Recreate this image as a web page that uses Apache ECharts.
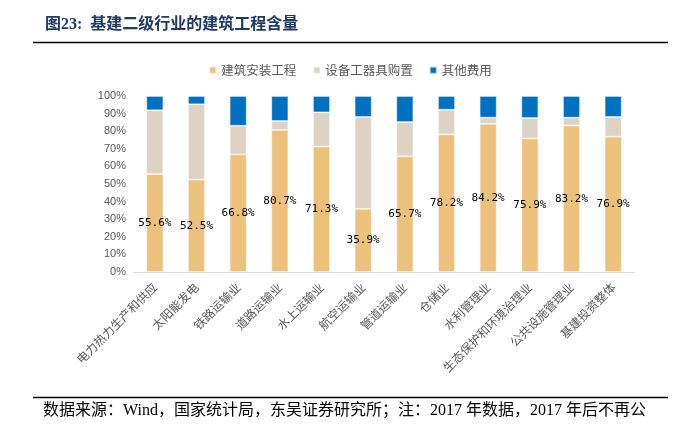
<!DOCTYPE html>
<html><head><meta charset="utf-8">
<script src="https://cdn.jsdelivr.net/npm/echarts@6/dist/echarts.min.js"></script>
<style>html,body{margin:0;padding:0;background:#fff}#c{width:700px;height:425px}</style>
</head><body><div id="c"></div>
<script>
const categories = ['电力热力生产和供应','太阳能发电','铁路运输业','道路运输业','水上运输业','航空运输业','管道运输业','仓储业','水利管理业','生态保护和环境治理业','公共设施管理业','基建投资整体'];
const construction = [55.6, 52.5, 66.8, 80.7, 71.3, 35.9, 65.7, 78.2, 84.2, 75.9, 83.2, 76.9];
const equipment = [36.3, 42.8, 16.3, 5.1, 19.4, 52.2, 19.5, 14.0, 3.5, 11.6, 4.5, 11.2];
const other = [8.1, 4.7, 16.9, 14.2, 9.3, 11.9, 14.8, 7.8, 12.3, 12.5, 12.3, 11.9];
const seriesNames = ['建筑安装工程','设备工器具购置','其他费用'];
const yTicks = [0,10,20,30,40,50,60,70,80,90,100];

const chart = echarts.init(document.getElementById('c'));
const border = {borderColor:'rgba(255,255,255,0.6)', borderWidth:0.8};
chart.setOption({
  animation:false,
  color:['#ECC17B','#DCD3C4','#0070C0'],
  legend:{
    data:seriesNames, top:59, left:'center', itemWidth:7, itemHeight:7, itemGap:16,
    icon:'rect',
    textStyle:{color:'#595959', fontSize:12.5, fontFamily:'Noto Sans CJK SC'}
  },
  grid:{left:134, right:66, top:96, bottom:153},
  xAxis:{
    type:'category', data:categories,
    axisLine:{lineStyle:{color:'#D9D9D9', width:1}},
    axisTick:{show:false},
    axisLabel:{rotate:45, interval:0, color:'#595959', fontSize:12, fontFamily:'Noto Sans CJK SC', margin:13}
  },
  yAxis:{
    type:'value', min:0, max:100, interval:10,
    axisLine:{show:false}, axisTick:{show:false}, splitLine:{show:false},
    axisLabel:{color:'#595959', fontSize:11, fontFamily:'Liberation Sans', formatter:v=>v+'%', margin:8}
  },
  series:[
    {name:seriesNames[0], type:'bar', stack:'s', barWidth:17, data:construction, itemStyle:border,
     label:{show:true, position:'inside', color:'#000', fontSize:11, fontFamily:'DejaVu Sans Mono', formatter:p=>p.value.toFixed(1)+'%'}},
    {name:seriesNames[1], type:'bar', stack:'s', barWidth:17, data:equipment, itemStyle:border},
    {name:seriesNames[2], type:'bar', stack:'s', barWidth:17, data:other, itemStyle:border}
  ],
  graphic:[
    {type:'text', left:45, top:17, style:{text:'图23:  基建二级行业的建筑工程含量', fill:'#1F3864', font:'bold 16px "Liberation Serif","Noto Sans CJK SC"'}},
    {type:'line', shape:{x1:33, y1:42.5, x2:668, y2:42.5}, style:{stroke:'#000', lineWidth:1.5}},
    {type:'line', shape:{x1:33, y1:397.5, x2:668, y2:397.5}, style:{stroke:'#000', lineWidth:1.5}},
    {type:'text', left:43, top:403, style:{text:'数据来源：Wind，国家统计局，东吴证券研究所；注：2017 年数据，2017 年后不再公', fill:'#000', font:'16px "Liberation Serif","Noto Sans CJK SC"'}}
  ]
});
</script></body></html>
